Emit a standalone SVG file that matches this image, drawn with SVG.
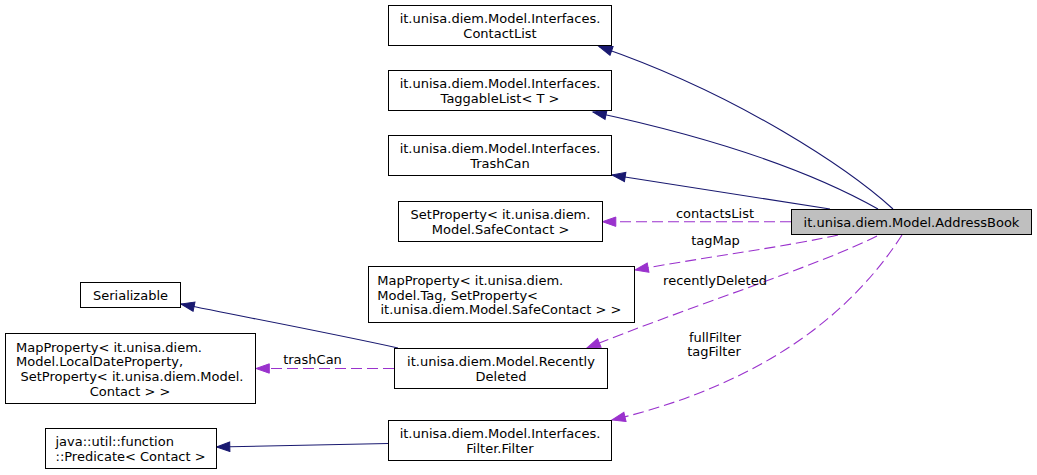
<svg xmlns="http://www.w3.org/2000/svg" width="1037" height="475" viewBox="0 0 1037 475">
<style>
  text { font-family: "DejaVu Sans", "Liberation Sans", sans-serif; font-size: 13px; fill: #000; }
  .m { text-anchor: middle; }
  .s { text-anchor: start; }
  .box { fill: #fff; stroke: #000; stroke-width: 1; }
  .root { fill: #bfbfbf; stroke: #000; stroke-width: 1; }
  .inh { fill: none; stroke: #191970; stroke-width: 1.1; marker-end: url(#an); }
  .use { fill: none; stroke: #9a32cd; stroke-width: 1.1; stroke-dasharray: 11,5; marker-end: url(#ap); }
</style>
<defs>
  <marker id="an" markerUnits="userSpaceOnUse" markerWidth="16" markerHeight="12" refX="13.3" refY="5" orient="auto" overflow="visible">
    <path d="M0,0.3 L13.3,5 L0,9.7 z" fill="#191970" stroke="#191970" stroke-width="1"/>
  </marker>
  <marker id="ap" markerUnits="userSpaceOnUse" markerWidth="16" markerHeight="12" refX="13.3" refY="5" orient="auto" overflow="visible">
    <path d="M0,0.3 L13.3,5 L0,9.7 z" fill="#9a32cd" stroke="#9a32cd" stroke-width="1"/>
  </marker>
</defs>
<rect width="1037" height="475" fill="#fff"/>

<g id="connectors">
  <path class="inh" d="M893,209 C850,170 740,95 599,46.5"/>
  <path class="inh" d="M878,209 C800,165 700,135 593,112"/>
  <path class="inh" d="M830,209 C770,199 690,187 612,175"/>
  <path class="use" d="M791,221.7 L602.5,221.7"/>
  <text class="m" x="715" y="218">contactsList</text>
  <path class="use" d="M838,235 C790,246 700,258 635,270"/>
  <text class="m" x="715.5" y="244.5">tagMap</text>
  <path class="use" d="M877,236 C820,265 680,310 587,348"/>
  <text class="m" x="715" y="285">recentlyDeleted</text>
  <path class="use" d="M902,235 C860,300 780,380 612,420"/>
  <text class="m" x="715" y="341.5">fullFilter</text>
  <text class="m" x="714" y="356">tagFilter</text>
  <path class="inh" d="M398,348 C330,333 250,318 181,304"/>
  <path class="use" d="M394,368.5 L256,368.5"/>
  <text class="m" x="312.5" y="364">trashCan</text>
  <path class="inh" d="M388,443.5 L216.5,447"/>
</g>

<g id="AddressBook">
  <rect class="root" x="791.5" y="209.5" width="240" height="25"/>
  <text class="m" x="911.5" y="226.5">it.unisa.diem.Model.AddressBook</text>
</g>
<g id="ContactList">
  <rect class="box" x="388.5" y="5.5" width="223" height="40"/>
  <text class="m" x="500" y="23">it.unisa.diem.Model.Interfaces.</text>
  <text class="m" x="500" y="37.7">ContactList</text>
</g>
<g id="TaggableList">
  <rect class="box" x="388.5" y="70.5" width="223" height="40"/>
  <text class="m" x="500" y="88">it.unisa.diem.Model.Interfaces.</text>
  <text class="m" x="500" y="102.7">TaggableList&lt; T &gt;</text>
</g>
<g id="TrashCan">
  <rect class="box" x="388.5" y="135.5" width="223" height="40"/>
  <text class="m" x="500" y="153">it.unisa.diem.Model.Interfaces.</text>
  <text class="m" x="500" y="167.7">TrashCan</text>
</g>
<g id="SetProperty">
  <rect class="box" x="398.5" y="201.5" width="204" height="40"/>
  <text class="m" x="500.5" y="219">SetProperty&lt; it.unisa.diem.</text>
  <text class="m" x="500.5" y="233.7">Model.SafeContact &gt;</text>
</g>
<g id="MapPropertyTag">
  <rect class="box" x="368.5" y="266.5" width="266" height="56"/>
  <text class="s" x="377.3" y="284.9">MapProperty&lt; it.unisa.diem.</text>
  <text class="s" x="377.3" y="299.6">Model.Tag, SetProperty&lt;</text>
  <text class="m" x="501" y="314.2">it.unisa.diem.Model.SafeContact &gt; &gt;</text>
</g>
<g id="Serializable">
  <rect class="box" x="80.5" y="282.5" width="100" height="25"/>
  <text class="m" x="130.5" y="299.7">Serializable</text>
</g>
<g id="MapPropertyLocalDate">
  <rect class="box" x="5.5" y="333.5" width="250" height="70"/>
  <text class="s" x="16" y="351.6">MapProperty&lt; it.unisa.diem.</text>
  <text class="s" x="16" y="366.3">Model.LocalDateProperty,</text>
  <text class="s" x="20.5" y="380.9">SetProperty&lt; it.unisa.diem.Model.</text>
  <text class="m" x="130" y="395.6">Contact &gt; &gt;</text>
</g>
<g id="RecentlyDeleted">
  <rect class="box" x="394.5" y="348.5" width="213" height="40"/>
  <text class="m" x="501" y="366">it.unisa.diem.Model.Recently</text>
  <text class="m" x="501" y="380.7">Deleted</text>
</g>
<g id="Filter">
  <rect class="box" x="388.5" y="420.5" width="223" height="40"/>
  <text class="m" x="500" y="438">it.unisa.diem.Model.Interfaces.</text>
  <text class="m" x="500" y="452.7">Filter.Filter</text>
</g>
<g id="Predicate">
  <rect class="box" x="45.5" y="428.5" width="171" height="40"/>
  <text class="s" x="55.5" y="446">java::util::function</text>
  <text class="s" x="55.5" y="460.7">::Predicate&lt; Contact &gt;</text>
</g>
</svg>
